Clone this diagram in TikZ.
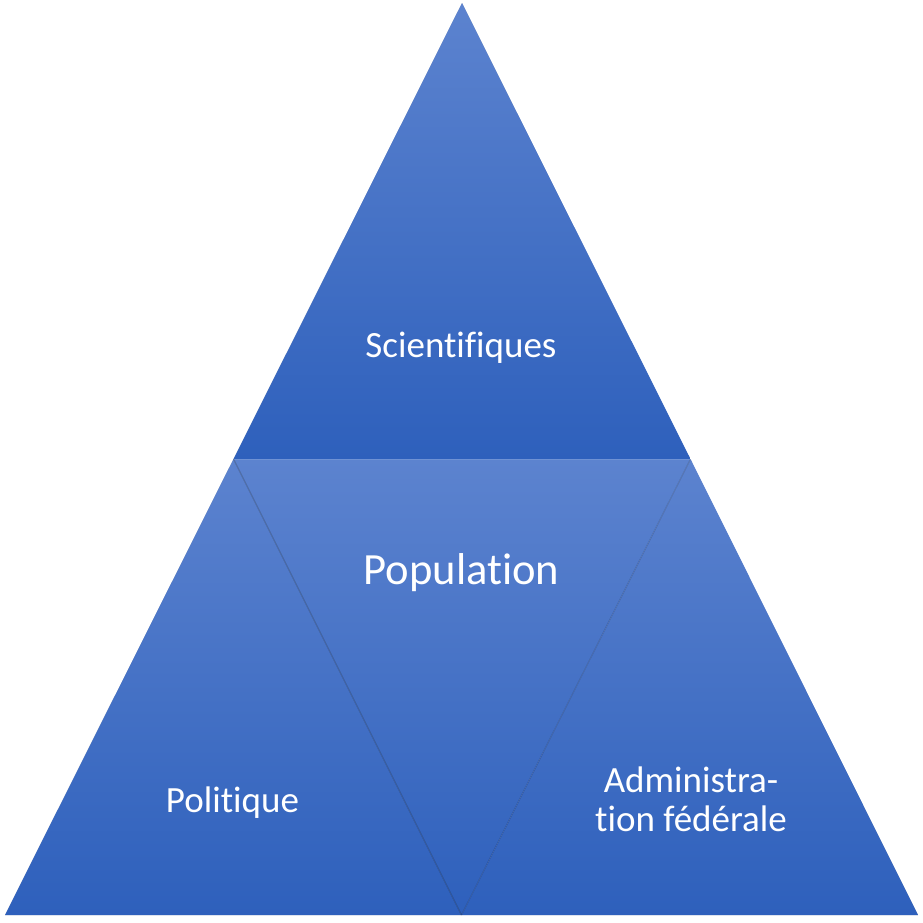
\documentclass[tikz,border=0pt]{standalone}
\usepackage{fontspec}
\setmainfont{Carlito}[Ligatures=NoCommon]
\definecolor{topc}{RGB}{92,131,207}
\definecolor{botc}{RGB}{46,96,188}
\begin{document}
\begin{tikzpicture}[x=1pt,y=-1pt,
  tri/.style={top color=topc,bottom color=botc,draw=none},
  shad/.style={fill=black,fill opacity=0.08},
  edge/.style={draw=black,draw opacity=0.18,line width=1.2pt},
  lbl/.style={text=white,font=\fontsize{37}{39}\selectfont,align=center,anchor=base,inner sep=0pt}]
\useasboundingbox (0,0) rectangle (923,922);
\coordinate (A) at (462,3);
\coordinate (L) at (233.5,459);
\coordinate (R) at (690.5,459);
\coordinate (BL) at (5,915);
\coordinate (BM) at (461.5,915);
\coordinate (BR) at (918,915);
% soft shadows
\foreach \s in {1,2,3}{
  \fill[shad,shift={(\s*0.7,\s*1.2)}] (A) -- (BR) -- (BL) -- cycle;
}
% top triangle
\shade[tri] (A) -- (R) -- (L) -- cycle;
% left triangle
\shade[tri] (L) -- (BM) -- (BL) -- cycle;
% right triangle
\shade[tri] (R) -- (BR) -- (BM) -- cycle;
% middle inverted triangle
\shade[tri] (L) -- (R) -- (BM) -- cycle;
% internal edges
\draw[edge] (L) -- (BM);
\draw[edge,draw opacity=0.12] (R) -- (BM);
\draw[draw=white,draw opacity=0.12,line width=1pt] (L) -- (R);
% labels
\node[lbl] (sci) at (461,357) {Scientifiques};
\node[lbl,font=\fontsize{44.6}{46}\selectfont] (pop) at (461.5,584) {Population};
\node[lbl] (pol) at (232.5,812) {Politique};
\node[lbl] (adm) at (691,831) {Administra-\\tion fédérale};
\end{tikzpicture}
\end{document}
